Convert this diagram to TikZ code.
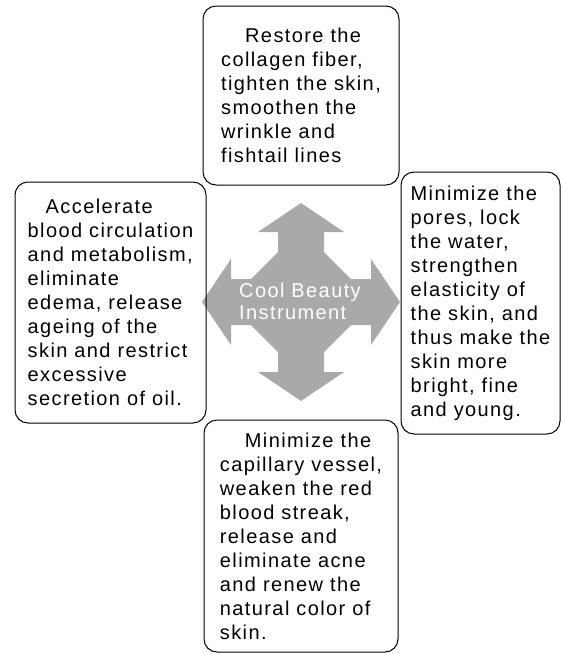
\documentclass[tikz,border=0pt]{standalone}
\usepackage{xcolor}
\definecolor{Ash}{HTML}{A9A9A9}
\colorlet{ash}{Ash}
\usepackage{fontspec}
\setmainfont{Liberation Sans}[LetterSpace=7]
\usepackage{tikz}
\usetikzlibrary{positioning}

\begin{document}
\begin{tikzpicture}[x=1pt,y=-1pt,every node/.style={font=\fontsize{20}{24}\selectfont,align=left},box/.style={draw,line width=1pt,rounded corners=13pt,inner sep=0pt}]
\useasboundingbox (0,0) rectangle (561,654);
% four-way arrow behind the hub
\fill[ash,shift={(301,302)}] (0,-99)--(43,-70)--(23,-70)--(23,-50)--(50,-23)--(70,-23)--(70,-43)--(99,0)--(70,43)--(70,23)--(50,23)--(23,50)--(23,70)--(43,70)--(0,99)--(-43,70)--(-23,70)--(-23,50)--(-50,23)--(-70,23)--(-70,43)--(-99,0)--(-70,-43)--(-70,-23)--(-50,-23)--(-23,-50)--(-23,-70)--(-43,-70)--cycle;
\node[text=white,font=\fontsize{20}{22}\selectfont] (hub) at (300,301) {Cool Beauty\\Instrument};
\node[box,minimum width=196pt,minimum height=179pt] (restore) at (301,95.5) {\hspace*{24pt}Restore the\\collagen fiber,\\tighten the skin,\\smoothen the\\wrinkle and\\fishtail lines};
\node[box,minimum width=191pt,minimum height=241pt] (accel) at (110.5,302.5) {\hspace*{18pt}Accelerate\\blood circulation\\and metabolism,\\eliminate\\edema, release\\ageing of the\\skin and restrict\\excessive\\secretion of oil.};
\node[box,minimum width=159pt,minimum height=262pt] (pores) at (480.5,303) {Minimize the\\pores, lock\\the water,\\strengthen\\elasticity of\\the skin, and\\thus make the\\skin more\\bright, fine\\and young.};
\node[box,minimum width=194pt,minimum height=232pt] (capil) at (301,536) {\hspace*{25pt}Minimize the\\capillary vessel,\\weaken the red\\blood streak,\\release and\\eliminate acne\\and renew the\\natural color of\\skin.};
\end{tikzpicture}
\end{document}
